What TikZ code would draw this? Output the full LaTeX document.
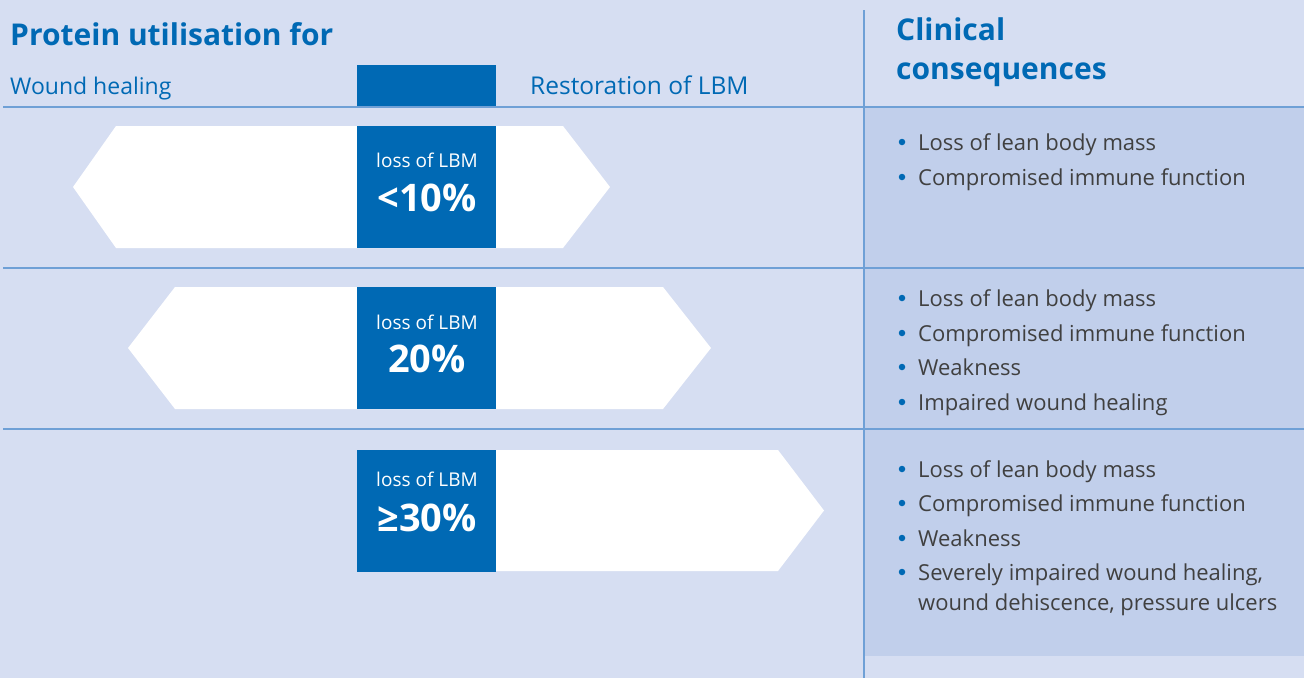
\documentclass[tikz,border=0pt]{standalone}
\usepackage{fontspec}
\setmainfont{Open Sans}
\definecolor{bgblue}{HTML}{D6DEF2}
\definecolor{panelblue}{HTML}{C1CFEB}
\definecolor{rule}{HTML}{6FA0D6}
\definecolor{brand}{HTML}{0069B4}
\definecolor{bodytext}{HTML}{404040}
\tikzset{
  head/.style={anchor=base west, text=brand, font=\fontsize{30}{34}\selectfont\bfseries, inner sep=0},
  sub/.style={anchor=base west, text=brand, font=\fontsize{23}{27}\selectfont, inner sep=0},
  lossbox/.style={fill=brand, minimum width=139pt, minimum height=122pt, inner sep=0, draw=none},
  losslbl/.style={anchor=base, text=white, font=\fontsize{19}{22}\selectfont, inner sep=0},
  lossval/.style={anchor=base, text=white, font=\fontsize{38}{42}\selectfont\bfseries, inner sep=0},
  conseq/.style={anchor=base west, text=bodytext, font=\fontsize{22}{26}\selectfont, inner sep=0},
  dot/.style={circle, fill=brand, minimum size=6.5pt, inner sep=0},
  sep/.style={draw=rule, line width=1.6pt},
}
\begin{document}
\begin{tikzpicture}[x=1pt, y=-1pt]
  % canvas
  \fill[bgblue] (0,0) rectangle (1304,678);
  \useasboundingbox (0,0) rectangle (1304,678);
  % consequences panel
  \fill[panelblue] (865,108) rectangle (1304,656);

  % headings
  \node[head] (ph) at (10,45) {Protein utilisation for};
  \node[sub] (wh) at (10,94) {Wound healing};
  \node[sub, font=\fontsize{24.5}{28}\selectfont] (rl) at (530,94) {Restoration of LBM};
  \node[head] (cl) at (896,40) {Clinical};
  \node[head] (cc) at (896,79) {consequences};
  \node[fill=brand, minimum width=139pt, minimum height=42pt, inner sep=0] (hb) at (426.5,86) {};

  % row separators and column divider
  \draw[sep] (3,107) -- (1304,107);
  \draw[sep] (3,268) -- (1304,268);
  \draw[sep] (3,429) -- (1304,429);
  \draw[sep] (864,10) -- (864,678);

  % row 1: balanced utilisation
  \fill[white] (73,187) -- (116,126) -- (563,126) -- (610,187) -- (563,248) -- (116,248) -- cycle;
  \node[lossbox] (b1) at (426.5,187) {};
  \node[losslbl] (l1) at (427,167) {loss of LBM};
  \node[lossval] (v1) at (427,211) {<10\%};

  % row 2
  \fill[white] (128,348) -- (175,287) -- (663,287) -- (711,348) -- (663,409) -- (175,409) -- cycle;
  \node[lossbox] (b2) at (426.5,348) {};
  \node[losslbl] (l2) at (427,329) {loss of LBM};
  \node[lossval] (v2) at (427,372) {20\%};

  % row 3: restoration only
  \fill[white] (496,450) -- (778,450) -- (824,510.5) -- (778,571) -- (496,571) -- cycle;
  \node[lossbox] (b3) at (426.5,510.5) {};
  \node[losslbl] (l3) at (427,486) {loss of LBM};
  \node[lossval] (v3) at (427,531) {≥30\%};

  % consequences, row 1
  \node[dot] (d11) at (902,142) {};
  \node[conseq] (c11) at (918,150) {Loss of lean body mass};
  \node[dot] (d12) at (902,177) {};
  \node[conseq] (c12) at (918,185) {Compromised immune function};
  % row 2
  \node[dot] (d21) at (902,298) {};
  \node[conseq] (c21) at (918,306) {Loss of lean body mass};
  \node[dot] (d22) at (902,333) {};
  \node[conseq] (c22) at (918,341) {Compromised immune function};
  \node[dot] (d23) at (902,367) {};
  \node[conseq] (c23) at (918,375) {Weakness};
  \node[dot] (d24) at (902,402) {};
  \node[conseq] (c24) at (918,410) {Impaired wound healing};
  % row 3
  \node[dot] (d31) at (902,469) {};
  \node[conseq] (c31) at (918,477) {Loss of lean body mass};
  \node[dot] (d32) at (902,503) {};
  \node[conseq] (c32) at (918,511) {Compromised immune function};
  \node[dot] (d33) at (902,538) {};
  \node[conseq] (c33) at (918,546) {Weakness};
  \node[dot] (d34) at (902,572) {};
  \node[conseq] (c34) at (918,580) {Severely impaired wound healing,};
  \node[conseq] (c35) at (918,610) {wound dehiscence, pressure ulcers};
\end{tikzpicture}
\end{document}
